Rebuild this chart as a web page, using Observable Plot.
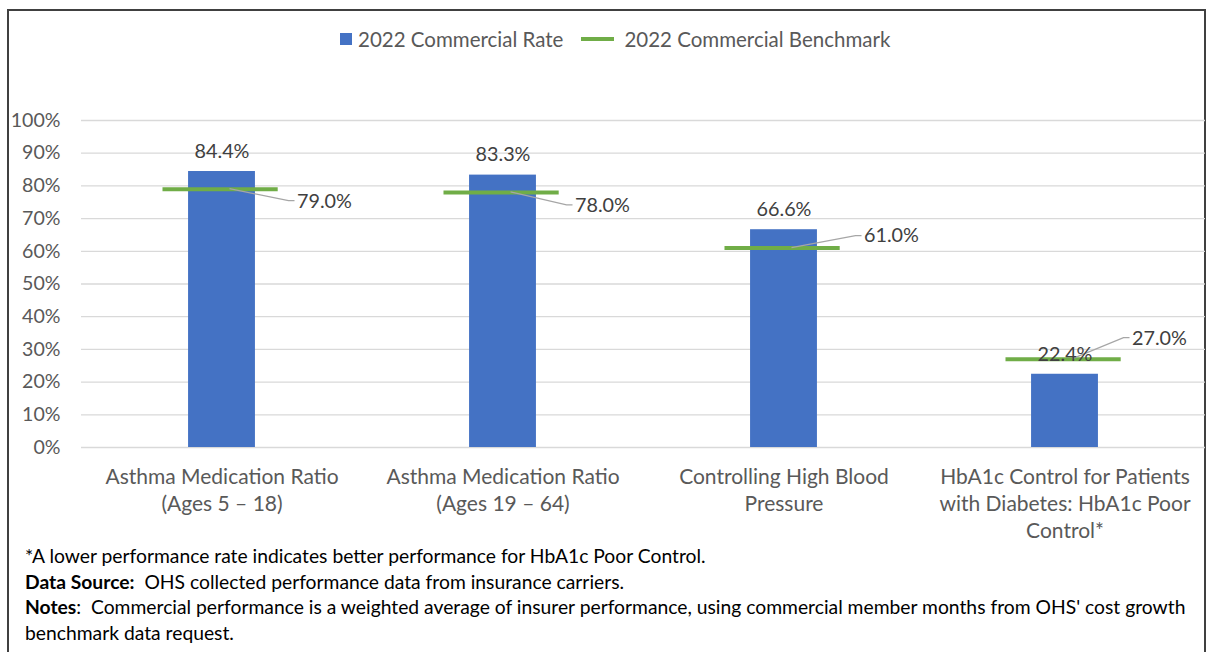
<!DOCTYPE html>
<html><head><meta charset="utf-8">
<script src="https://cdn.jsdelivr.net/npm/d3@7"></script>
<script src="https://cdn.jsdelivr.net/npm/@observablehq/plot@0.6"></script>
<style>
body{margin:0;background:#fff;font-family:Lato,"Open Sans",sans-serif;}
#wrap{position:relative;width:1207px;height:652px;overflow:hidden;background:#fff;}
#frame{position:absolute;left:7px;top:9px;width:1199px;height:700px;border:2px solid #404040;border-bottom:none;box-sizing:border-box;}
#chart{position:absolute;left:0;top:0;}
#legend{position:absolute;left:340px;top:27px;display:flex;align-items:center;font-size:20.5px;color:#595959;white-space:nowrap;}
#legend .sw{display:inline-block;width:12px;height:12px;background:#4472C4;margin-right:6px;}
#legend .ln{display:inline-block;width:33px;height:4px;background:#70AD47;margin-left:18px;margin-right:10px;}
#notes{position:absolute;left:25px;top:543px;font-size:19.3px;line-height:25.5px;color:#000;white-space:nowrap;}
</style></head>
<body>
<div id="wrap">
  <div id="frame"></div>
  <div id="chart"></div>
  <div id="legend"></div>
  <div id="notes"></div>
</div>
<script>
const categories = [
  "Asthma Medication Ratio\n(Ages 5 – 18)",
  "Asthma Medication Ratio\n(Ages 19 – 64)",
  "Controlling High Blood\nPressure",
  "HbA1c Control for Patients\nwith Diabetes: HbA1c Poor\nControl*"
];
const rateValues = [84.4, 83.3, 66.6, 22.4];
const benchmarkValues = [79.0, 78.0, 61.0, 27.0];
const yTicks = [0, 10, 20, 30, 40, 50, 60, 70, 80, 90, 100];
const seriesNames = ["2022 Commercial Rate", "2022 Commercial Benchmark"];
const footnotes = [
  ["", "*A lower performance rate indicates better performance for HbA1c Poor Control."],
  ["Data Source:", "  OHS collected performance data from insurance carriers."],
  ["Notes", ":  Commercial performance is a weighted average of insurer performance, using commercial member months from OHS' cost growth"],
  ["", "benchmark data request."]
];
// label placement offsets (px) for benchmark data labels
const labelDx = [75, 72, 80, 67];
const labelDy = [12, 13, -12, -21];

const rows = categories.map((c, i) => ({i, label: c, rate: rateValues[i], bench: benchmarkValues[i]}));
const fmt = v => v.toFixed(1) + "%";

const leader = (index, scales) => {
  const g = d3.create("svg:g").attr("stroke", "#a6a6a6").attr("fill", "none").attr("stroke-width", 1.3);
  rows.forEach((d, k) => {
    const cx = scales.x(d.i), by = scales.y(d.bench);
    g.append("path").attr("d", `M${cx + 8},${by}L${cx + labelDx[k] - 8},${by + labelDy[k]}H${cx + labelDx[k] - 2}`);
  });
  return g.node();
};

const chart = Plot.plot({
  width: 1207,
  height: 570,
  marginLeft: 81,
  marginRight: 2,
  marginTop: 120,
  marginBottom: 123,
  style: {fontFamily: "Lato, 'Open Sans', sans-serif", color: "#595959", background: "transparent"},
  x: {domain: [-0.5, 3.5], axis: null},
  y: {domain: [0, 100], axis: null},
  marks: [
    Plot.gridY(yTicks, {stroke: "#d9d9d9", strokeOpacity: 1, strokeWidth: 1.3}),
    Plot.axisY(yTicks, {tickSize: 0, tickPadding: 21, tickFormat: d => d + "%", fontSize: 19.6, label: null, fill: "#595959"}),
    Plot.rectY(rows, {x1: d => d.i - 0.119, x2: d => d.i + 0.119, y: "rate", fill: "#4472C4"}),
    Plot.ruleY(rows, {y: "bench", x1: d => d.i - 0.21, x2: d => d.i + 0.2, stroke: "#70AD47", strokeWidth: 4}),
    leader,
    Plot.text(rows, {x: "i", y: "rate", text: d => fmt(d.rate), dy: -20, fontSize: 19.8, fill: "#404040"}),
    ...rows.map((d, k) => Plot.text([d], {x: "i", y: "bench", text: r => fmt(r.bench), dx: labelDx[k], dy: labelDy[k], textAnchor: "start", fontSize: 19.8, fill: "#404040"})),
    Plot.text(rows, {x: "i", y: 0, text: "label", lineAnchor: "top", dy: 17, lineHeight: 1.29, fontSize: 21, fill: "#595959"})
  ]
});
document.getElementById("chart").appendChild(chart);

const legend = document.getElementById("legend");
legend.innerHTML = `<span class="sw"></span><span>${seriesNames[0]}</span><span class="ln"></span><span>${seriesNames[1]}</span>`;

const notes = document.getElementById("notes");
notes.innerHTML = footnotes.map(([b, t]) => `<div>${b ? "<b>" + b + "</b>" : ""}${t.replace(/  /g, "&nbsp; ")}</div>`).join("");
</script>
</body></html>
